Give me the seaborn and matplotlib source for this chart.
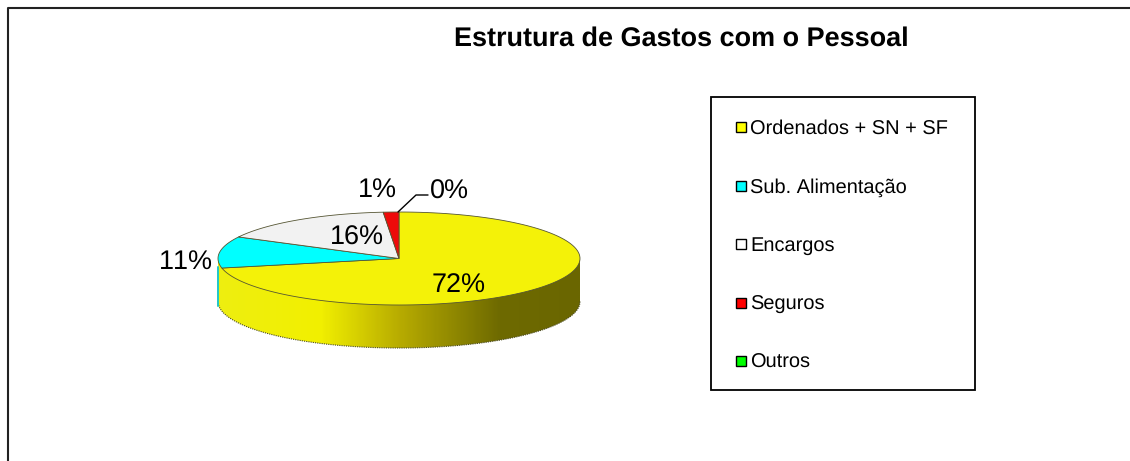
import numpy as np
import pandas as pd
import matplotlib
matplotlib.use("Agg")
import matplotlib.pyplot as plt
from matplotlib.patches import Rectangle, PathPatch
from matplotlib.path import Path
import seaborn as sns

categories = ["Ordenados + SN + SF", "Sub. Alimentação", "Encargos", "Seguros", "Outros"]
values = [72, 11, 16, 1.4, 0]
labels = ["72%", "11%", "16%", "1%", "0%"]
colors = ["#ffff00", "#00ffff", "#ffffff", "#ff0000", "#00ff00"]
top_colors = ["#f4f208", "#00ffff", "#f2f2f2", "#ee0a0a", "#00ff00"]
title = "Estrutura de Gastos com o Pessoal"

W, H = 1130, 461
sns.set_theme(style="white")
plt.rcParams["font.family"] = ["Liberation Sans", "DejaVu Sans"]
plt.rcParams["text.hinting"] = "no_hinting"
plt.rcParams["text.hinting_factor"] = 1
plt.rcParams["text.kerning_factor"] = 6

df = pd.DataFrame({"categoria": categories, "valor": values})

fig = plt.figure(figsize=(W / 100, H / 100), dpi=100)
ax = fig.add_axes([0, 0, 1, 1])

# outer frame: only top and left show in the crop
ax.plot([8, 8, W], [H, 8, 8], color="#222222", lw=1.5)

cx, cy, rx, ry, depth = 399, 258.5, 181, 46.5, 43


def ell(a):
    # clockwise from 12 o'clock, y squashed
    return cx + rx * np.sin(a), cy - ry * np.cos(a)


# side wall with the gradient of the old 3D pie
side = np.linspace(0, 1, 300)[:, None].T
grad = matplotlib.colors.LinearSegmentedColormap.from_list(
    "wall", [(0, "#eeee10"), (0.28, "#f2f000"), (0.5, "#b8ac00"), (0.78, "#6e6a00"), (1, "#6a6600")])
im = ax.imshow(side, extent=[cx - rx, cx + rx, cy + ry + depth, cy], cmap=grad, aspect="auto", zorder=1)
t = np.linspace(np.pi / 2, -np.pi / 2, 100)
xs = cx + rx * np.sin(t)
ys = cy + ry * np.cos(t) + depth
top_t = np.linspace(-np.pi / 2, np.pi / 2, 100)
clip_x = np.r_[xs, cx + rx * np.sin(top_t)]
clip_y = np.r_[ys, np.full(100, cy)]
clip = PathPatch(Path(np.c_[clip_x, clip_y]), transform=ax.transData, fc="none", ec="none")
ax.add_patch(clip)
im.set_clip_path(clip)
ax.plot(xs, ys, color="#4a4a20", lw=0.8, ls=(0, (1, 1)), zorder=2)

# cyan sliver of the wall at the far left
ax.plot([cx - rx, cx - rx], [cy + 8, cy + 47], color="#20c8c8", lw=1.4, zorder=2)

# top face, slices go clockwise from 12 o'clock
shares = df["valor"].to_numpy(dtype=float)
edges = np.r_[0, np.cumsum(shares) / shares.sum()] * 2 * np.pi
for i in range(len(shares)):
    if shares[i] == 0:
        continue
    a = np.linspace(edges[i], edges[i + 1], 120)
    px, py = ell(a)
    ax.fill(np.r_[cx, px], np.r_[cy, py], color=top_colors[i], ec="#555533", lw=0.6, zorder=3)

# labels
label_xy = [(459, 286), (186, 262), (357, 238), (377, 190), (449, 192)]
for text, (lx, ly) in zip(labels, label_xy):
    ax.text(lx, ly, text, fontsize=19.5, ha="center", va="center", color="black", zorder=5)
ax.plot([398, 416, 428], [212, 195, 195], color="black", lw=1, zorder=5)

# title
ax.text(681, 39, title, fontsize=19.3, fontweight="bold", ha="center", va="center", color="black")

# legend box
ax.add_patch(Rectangle((711, 97), 264, 293, fc="white", ec="black", lw=1.3))
legend_y = [127, 186, 244, 303, 361]
for name, col, y in zip(categories, colors, legend_y):
    ax.add_patch(Rectangle((736, y - 5), 10, 10, fc=col, ec="black", lw=1))
    ax.text(750, y + 1.5, name, fontsize=14.5, ha="left", va="center", color="black")

ax.set_xlim(0, W)
ax.set_ylim(H, 0)
ax.axis("off")

fig.savefig("out.png", dpi=100)
